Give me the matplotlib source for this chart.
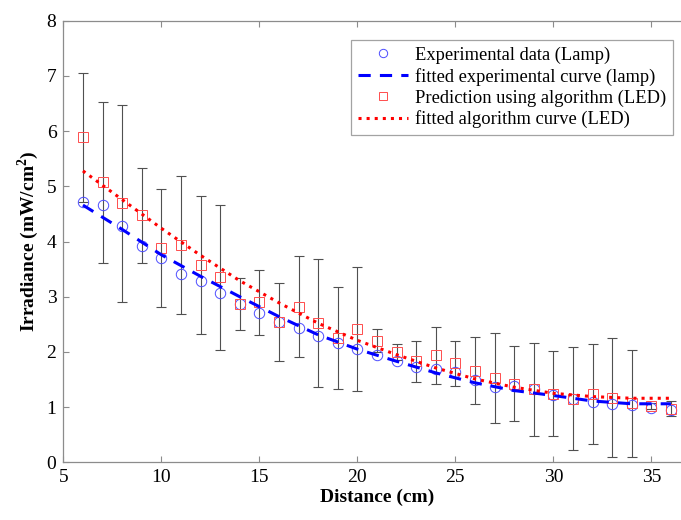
import matplotlib
matplotlib.use("Agg")
import matplotlib.pyplot as plt
import numpy as np

# distance (cm)
distance = np.arange(6, 37)

# experimental irradiance, lamp (mW/cm^2)
lamp_exp = [4.72, 4.67, 4.29, 3.92, 3.70, 3.42, 3.29, 3.07, 2.87, 2.71,
            2.54, 2.43, 2.29, 2.17, 2.06, 1.95, 1.83, 1.73, 1.69, 1.63,
            1.50, 1.36, 1.38, 1.32, 1.22, 1.15, 1.09, 1.06, 1.04, 0.99, 0.95]

# algorithm prediction, LED, with error bars
led_pred = [5.89, 5.07, 4.69, 4.48, 3.88, 3.94, 3.57, 3.35, 2.87, 2.90,
            2.54, 2.82, 2.52, 2.25, 2.41, 2.20, 2.00, 1.83, 1.94, 1.79,
            1.66, 1.53, 1.42, 1.32, 1.24, 1.15, 1.24, 1.17, 1.07, 1.02, 0.97]
led_err = [1.17, 1.45, 1.79, 0.86, 1.07, 1.25, 1.25, 1.31, 0.47, 0.59,
           0.70, 0.92, 1.16, 0.93, 1.12, 0.21, 0.15, 0.37, 0.52, 0.41,
           0.61, 0.81, 0.68, 0.85, 0.77, 0.93, 0.90, 1.08, 0.97, 0.05, 0.14]

# fitted curves
fit_x = np.arange(6, 37, 2)
lamp_fit = [4.66, 4.22, 3.76, 3.37, 3.00, 2.64, 2.31, 2.05, 1.83, 1.62,
            1.44, 1.30, 1.21, 1.11, 1.06, 1.06]
led_fit = [5.28, 4.76, 4.24, 3.75, 3.29, 2.89, 2.52, 2.21, 1.95, 1.71,
           1.51, 1.36, 1.25, 1.19, 1.16, 1.16]

plt.rcParams["font.family"] = ["Liberation Serif", "DejaVu Serif"]
plt.rcParams["mathtext.fontset"] = "custom"
plt.rcParams["mathtext.rm"] = "Liberation Serif"
plt.rcParams["mathtext.bf"] = "Liberation Serif:bold"

fig = plt.figure(figsize=(6.81, 5.2), dpi=100)
ax = fig.add_axes([0.093, 0.111, 0.921, 0.849])

ax.errorbar(distance, led_pred, yerr=led_err, fmt="none", ecolor="#505050",
            elinewidth=0.8, capsize=3.5, capthick=0.8, zorder=1)
ax.plot(distance, lamp_exp, "o", ms=7.5, mfc="none", mec="#4d4dff", mew=0.7,
        label="Experimental data (Lamp)", zorder=3)
ax.plot(fit_x, lamp_fit, "--", color="#0000ff", lw=2.2, dashes=(4, 3),
        label="fitted experimental curve (lamp)", zorder=4)
ax.plot(distance, led_pred, "s", ms=6.5, mfc="none", mec="#ff4d4d", mew=0.7,
        label="Prediction using algorithm (LED)", zorder=3)
ax.plot(fit_x, led_fit, ":", color="#ff0000", lw=2.2,
        label="fitted algorithm curve (LED)", zorder=4)

ax.set_xlim(5, 37)
ax.set_ylim(0, 8)
ax.set_xticks([5, 10, 15, 20, 25, 30, 35])
ax.set_yticks(range(0, 9))
ax.tick_params(direction="in", top=True, right=True, length=4,
               color="#8c8c8c", labelsize=14, pad=5)
for s in ax.spines.values():
    s.set_color("#8c8c8c")
    s.set_linewidth(0.9)

ax.set_xlabel("Distance (cm)", fontsize=14, fontweight="bold", labelpad=2)
ax.set_ylabel(r"Irradiance (mW/cm$^\mathbf{2}$)", fontsize=14,
              fontweight="bold", labelpad=4)

leg = ax.legend(loc="upper right", bbox_to_anchor=(0.9716, 0.9563),
                borderaxespad=0, fontsize=13.3, fancybox=False,
                handlelength=2.7, handletextpad=0.4, borderpad=0.35,
                labelspacing=0.2, markerscale=0.8)
leg.get_frame().set_edgecolor("#8c8c8c")
leg.get_frame().set_linewidth(0.9)

fig.savefig("out.png", dpi=100)
